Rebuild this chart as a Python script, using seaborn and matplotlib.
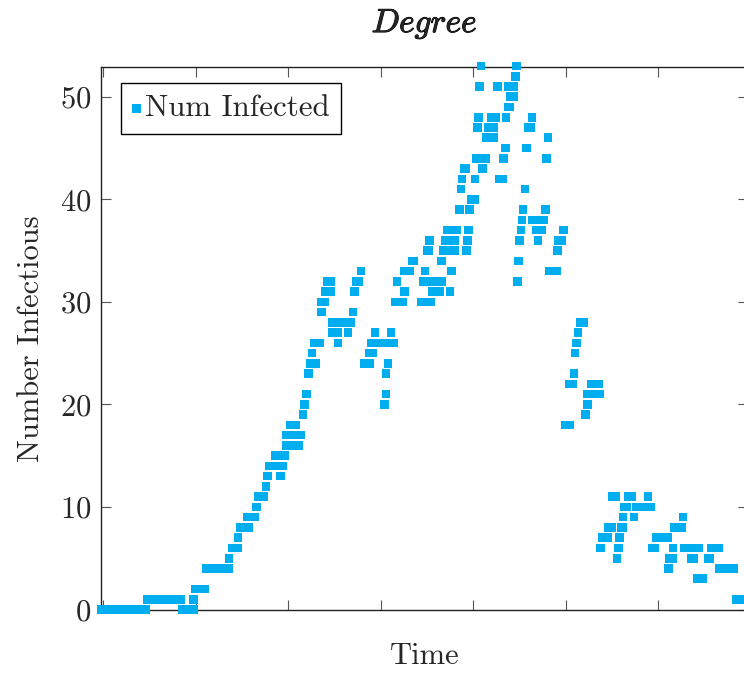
import matplotlib
matplotlib.use("Agg")
import matplotlib.pyplot as plt
import matplotlib.patheffects as pe
import seaborn as sns

# time steps (x) and number infected (y)
time = [-1, 1, 3, 5, 7, 9, 11, 13, 15, 17, 19, 21, 23,
        24, 26, 28, 30, 32, 34, 36, 38, 40, 42,
        43, 45, 47, 49, 49,
        50, 52, 55,
        56, 58, 60, 62, 64, 66, 68, 68,
        70, 73, 73, 74, 76, 79, 78, 80, 82, 83, 84, 87, 88,
        89, 96, 90, 92, 94, 96, 97, 93, 95, 98,
        99, 101, 103, 106, 99, 101, 103, 105, 107, 101, 104,
        108, 109, 110, 111, 112, 115, 113, 114, 117,
        118, 118, 120, 120, 123, 121, 123,
        124, 127, 124, 126, 128, 130, 132, 134, 127, 132.5,
        135, 136, 137, 138, 139.5,
        141, 144, 144, 146, 145, 147, 149, 151, 153, 155, 157, 147, 155.6,
        152, 153, 153, 154,
        158, 160, 162, 159, 163, 163, 166, 167, 168,
        172, 173, 175, 177, 179, 181, 183, 174, 175, 176, 176.6,
        177, 178, 180, 182, 183,
        184, 186, 188, 190, 185, 187, 190, 186, 189, 191,
        187.5, 188.4, 192.8, 193.4, 194, 195, 196,
        196.4, 197, 197.6, 198, 199, 201, 201,
        202, 204, 207, 202.4, 203, 203.5, 204.2, 205.1,
        207, 209, 211, 208, 211, 210, 212, 213.2,
        214, 216, 216.6, 217.4, 217.9,
        219, 220, 220, 222, 219, 222, 222.8, 223.4,
        224, 224.6, 225, 225.8, 226.4, 227, 228, 229, 230, 231, 231.8,
        232, 234, 236, 238, 234, 237, 235, 239, 239.6, 240.4,
        241, 243, 245, 245.6, 246, 248, 249,
        250, 252, 252, 254, 254.6, 255, 255.8, 256.6, 258, 260,
        260.9, 261.8, 262, 264, 264, 268, 268.5,
        268.9, 270, 273, 273, 275, 275, 277, 277.7, 278.6, 279.2,
        280, 281, 281, 282, 283, 284, 286, 287,
        288, 290, 292, 294, 296, 294.6,
        297, 298, 299, 301, 303, 305, 305.6, 306, 308, 308,
        309, 311, 313, 313.5,
        314, 316, 318, 320, 322, 318, 319, 321, 324,
        327, 328, 329, 331, 333,
        333, 335, 337, 339, 341,
        342, 344, 346, 348]
infected = [0, 0, 0, 0, 0, 0, 0, 0, 0, 0, 0, 0, 0,
            1, 1, 1, 1, 1, 1, 1, 1, 1, 1,
            0, 0, 0, 0, 1,
            2, 2, 2,
            4, 4, 4, 4, 4, 4, 4, 5,
            6, 6, 7, 8, 8, 8, 9, 9, 9, 10, 11, 11, 12,
            13, 13, 14, 14, 14, 14, 14, 15, 15, 15,
            16, 16, 16, 16, 17, 17, 17, 17, 17, 18, 18,
            19, 20, 21, 23, 24, 24, 25, 26, 26,
            29, 30, 30, 31, 31, 32, 32,
            27, 27, 28, 28, 28, 28, 28, 28, 26, 27,
            29, 31, 32, 32, 33,
            24, 24, 25, 25, 26, 26, 26, 26, 26, 26, 26, 27, 27,
            20, 21, 23, 24,
            30, 30, 30, 32, 31, 33, 33, 34, 34,
            30, 32, 32, 32, 32, 32, 32, 33, 35, 35, 36,
            30, 31, 31, 31, 34,
            35, 35, 35, 35, 36, 36, 36, 37, 37, 37,
            31, 33, 39, 41, 42, 43, 43,
            35, 36, 37, 39, 40, 40, 42,
            44, 44, 44, 47, 48, 51, 53, 43,
            46, 46, 46, 47, 47, 48, 48, 51,
            42, 42, 44, 45, 48,
            49, 49, 50, 50, 51, 51, 52, 53,
            32, 34, 36, 37, 38, 39, 41, 45, 47, 47, 48,
            38, 38, 38, 38, 37, 37, 36, 39, 44, 46,
            33, 33, 33, 35, 36, 36, 37,
            18, 18, 22, 22, 23, 25, 26, 27, 28, 28,
            19, 20, 21, 21, 22, 22, 21,
            6, 7, 7, 8, 8, 11, 11, 5, 6, 7,
            8, 8, 9, 10, 10, 11, 11, 9,
            10, 10, 10, 10, 10, 11,
            6, 6, 7, 7, 7, 7, 4, 5, 5, 6,
            8, 8, 8, 9,
            6, 6, 6, 6, 6, 5, 5, 3, 3,
            5, 5, 6, 6, 6,
            4, 4, 4, 4, 4,
            1, 1, 1, 1]

x_ticks = [0, 50, 100, 150, 200, 250, 300]
y_ticks = [0, 10, 20, 30, 40, 50]

sns.set_style("ticks")
plt.rcParams["font.family"] = ["cmr10", "DejaVu Serif"]
plt.rcParams["mathtext.fontset"] = "cm"
plt.rcParams["axes.formatter.use_mathtext"] = True

fig = plt.figure(figsize=(7.44, 6.73), dpi=100)
ax = fig.add_axes([101 / 744, 63.5 / 673, 647 / 744, 542.5 / 673])

sns.scatterplot(x=time, y=infected, ax=ax, marker="s", s=38, color="#00AEEF",
                edgecolor="none", linewidth=0, label="Num Infected", clip_on=False, zorder=3)

ax.set_xlim(-1.1, 348.6)
ax.set_ylim(0, 52.9)
ax.set_xticks(x_ticks)
ax.set_yticks(y_ticks)
ax.set_xticklabels([])
ax.tick_params(direction="in", length=7, width=0.8, color="#555555",
               top=True, right=True, labelsize=22, pad=7)
for sp in ax.spines.values():
    sp.set_linewidth(1.0)
    sp.set_color("#222222")

ax.set_xlabel("Time", fontsize=22, labelpad=17)
ax.set_ylabel("Number Infectious", fontsize=22, labelpad=11)
t = ax.set_title(r"$\mathit{Degree}$", fontsize=24, pad=25)
t.set_path_effects([pe.withStroke(linewidth=0.7, foreground="black")])

leg = ax.legend(loc="upper left", bbox_to_anchor=(19.7 / 647, 1 - 16.3 / 542.5),
                borderaxespad=0, fancybox=False, edgecolor="black", framealpha=1,
                fontsize=22.3, handlelength=0.3, handletextpad=0.12, borderpad=0.36)
leg.get_frame().set_linewidth(1.0)

fig.savefig("out.png", dpi=100)
